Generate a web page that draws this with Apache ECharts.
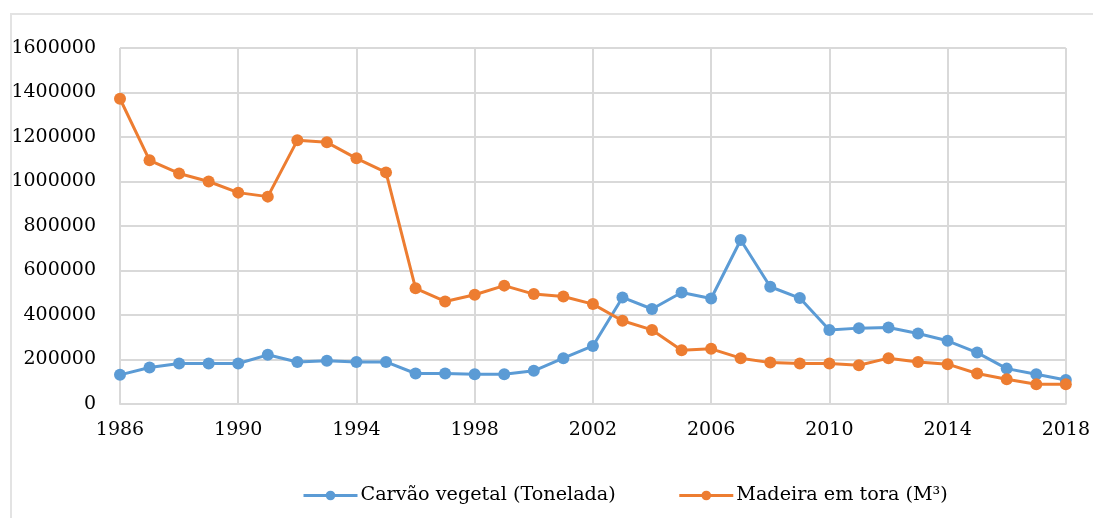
<!DOCTYPE html>
<html>
<head>
<meta charset="utf-8">
<script src="https://cdn.jsdelivr.net/npm/echarts@6/dist/echarts.min.js"></script>
<style>
  html, body { margin: 0; padding: 0; background: #fff; }
  #frame { position: absolute; left: 10px; top: 13px; width: 1100px; height: 520px;
           border-left: 2px solid #e3e3e3; border-top: 2px solid #e3e3e3; }
  #main { position: absolute; left: 0; top: 0; width: 1093px; height: 518px; }
</style>
</head>
<body>
<div id="frame"></div>
<div id="main"></div>
<script>
var years = [];
for (var y = 1986; y <= 2018; y++) { years.push(String(y)); }

// Carvão vegetal (Tonelada)
var carvao = [131000, 164000, 182000, 182000, 182000, 221000, 189000, 194000, 189000, 189000,
              137000, 137000, 134000, 134000, 149000, 206000, 261000, 479000, 427000, 501000,
              474000, 737000, 527000, 476000, 333000, 341000, 344000, 317000, 284000, 231000,
              159000, 134000, 108000];
// Madeira em tora (M³)
var madeira = [1372000, 1095000, 1036000, 1000000, 950000, 932000, 1185000, 1176000, 1104000, 1041000,
               520000, 461000, 491000, 532000, 494000, 483000, 449000, 374000, 333000, 242000,
               248000, 206000, 186000, 182000, 182000, 174000, 206000, 189000, 179000, 137000,
               111000, 89000, 89000];

var seriesNames = ['Carvão vegetal (Tonelada)', 'Madeira em tora (M³)'];

var myChart = echarts.init(document.getElementById('main'));
var gridColor = '#d9d9d9';
var font = '"DejaVu Serif", "Liberation Serif", serif';

var option = {
  animation: false,
  backgroundColor: 'transparent',
  grid: { left: 120, right: 27, top: 48, bottom: 114 },
  legend: {
    data: seriesNames,
    left: 297,
    top: 481,
    itemWidth: 54,
    itemHeight: 12,
    itemGap: 62,
    lineStyle: { width: 3 },
    textStyle: { fontFamily: font, fontSize: 19.2, color: '#000', padding: [0, 0, 0, -2] }
  },
  xAxis: {
    type: 'category',
    data: years,
    boundaryGap: false,
    axisLine: { lineStyle: { color: gridColor, width: 2 } },
    axisTick: { show: false },
    axisLabel: { interval: 3, margin: 17, color: '#000', fontFamily: font, fontSize: 19 },
    splitLine: { show: true, interval: 3, lineStyle: { color: gridColor, width: 2 } }
  },
  yAxis: {
    type: 'value',
    min: 0,
    max: 1600000,
    interval: 200000,
    axisLine: { show: false },
    axisTick: { show: false },
    axisLabel: {
      margin: 24, color: '#000', fontFamily: font, fontSize: 19,
      formatter: function (v) { return String(v); }
    },
    splitLine: { lineStyle: { color: gridColor, width: 2 } }
  },
  series: [
    {
      name: seriesNames[0],
      type: 'line',
      data: carvao,
      symbol: 'circle',
      symbolSize: 12,
      lineStyle: { color: '#5b9bd5', width: 3 },
      itemStyle: { color: '#5b9bd5' }
    },
    {
      name: seriesNames[1],
      type: 'line',
      data: madeira,
      symbol: 'circle',
      symbolSize: 12,
      lineStyle: { color: '#ed7d31', width: 3 },
      itemStyle: { color: '#ed7d31' }
    }
  ]
};
myChart.setOption(option);
</script>
</body>
</html>
